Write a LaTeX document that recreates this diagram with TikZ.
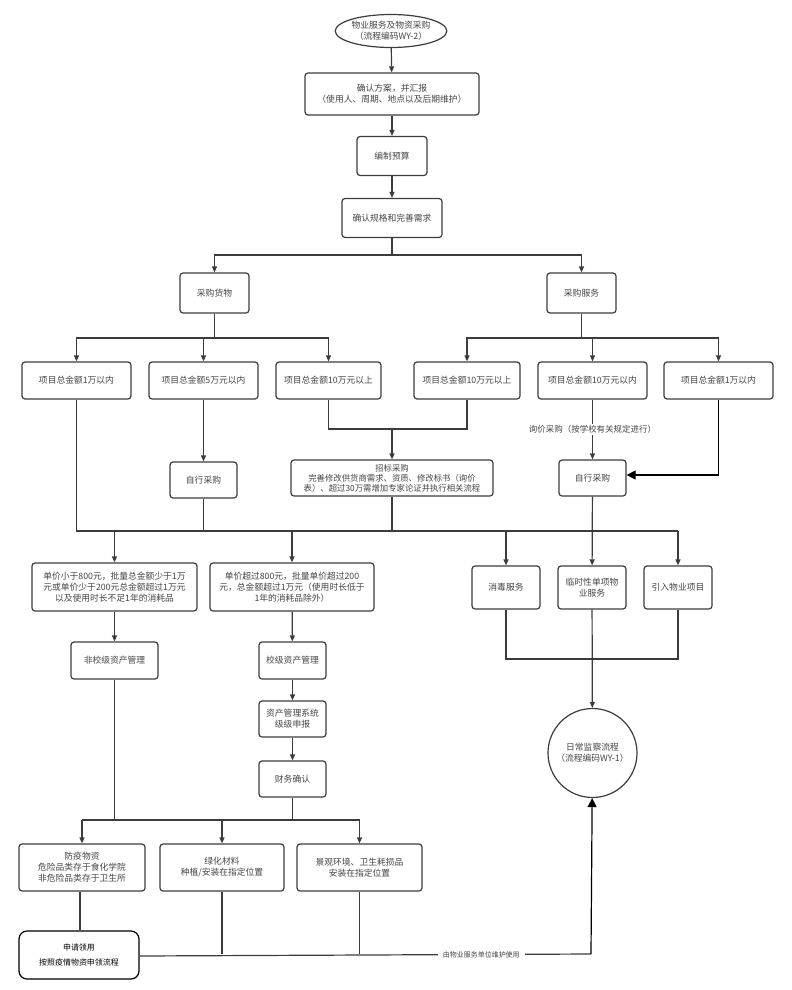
\documentclass[tikz,border=0pt]{standalone}
\usepackage{fontspec}
\newfontfamily\cjk{Noto Sans CJK SC}
\usetikzlibrary{arrows.meta,shapes.geometric}
\definecolor{lc}{HTML}{3C3C3C}
\definecolor{tc}{HTML}{454545}
\tikzset{
  base/.style={draw=lc, line width=1.2bp, fill=white, align=center, text=tc, inner sep=0pt,
    font=\cjk\fontsize{8.8}{11}\selectfont},
  box/.style={base, rounded corners=3bp},
  conn/.style={draw=lc, line width=1.2bp},
  arr/.style={conn, -{Triangle[length=6bp,width=5bp]}},
  bigarr/.style={draw=black, line width=1.2bp, -{Triangle[length=9bp,width=9bp]}},
  lbl/.style={fill=white, text=tc, font=\cjk\fontsize{8.5}{10}\selectfont, inner sep=1.5bp},
}
\begin{document}
\begin{tikzpicture}[x=1bp,y=-1bp]
\useasboundingbox (0,0) rectangle (792,990);
% nodes
\node[base, ellipse, minimum width=95bp, minimum height=33bp] (e) at (391,31) {物业服务及物资采购\\（流程编码WY-2）};
\node[box, minimum width=174bp, minimum height=42bp] (b1) at (392,94) {确认方案，并汇报\\（使用人、周期、地点以及后期维护）};
\node[box, minimum width=70bp, minimum height=39bp] (b2) at (392,156) {编制预算};
\node[box, minimum width=100bp, minimum height=39bp] (b3) at (392,218) {确认规格和完善需求};
\node[box, minimum width=69bp, minimum height=40bp] (goods) at (214.5,293) {采购货物};
\node[box, minimum width=69bp, minimum height=40bp] (serv) at (581.5,293) {采购服务};
\node[box, minimum width=109bp, minimum height=37bp] (g1) at (76.5,380.5) {项目总金额1万以内};
\node[box, minimum width=109bp, minimum height=37bp] (g2) at (203.5,380.5) {项目总金额5万元以内};
\node[box, minimum width=105bp, minimum height=37bp] (g3) at (328.5,380.5) {项目总金额10万元以上};
\node[box, minimum width=106bp, minimum height=37bp] (r1) at (467,380.5) {项目总金额10万元以上};
\node[box, minimum width=109bp, minimum height=37bp] (r2) at (592.5,380.5) {项目总金额10万元以内};
\node[box, minimum width=109bp, minimum height=37bp] (r3) at (718.5,380.5) {项目总金额1万以内};
\node[box, minimum width=67bp, minimum height=36bp] (zx1) at (203.5,480) {自行采购};
\node[box, minimum width=202bp, minimum height=36bp, font=\cjk\fontsize{8.4}{10}\selectfont] (zb) at (392,478) {招标采购\\完善修改供货商需求、资质、修改标书（询价\\表）、超过30万需增加专家论证并执行相关流程};
\node[box, minimum width=67bp, minimum height=36bp] (zx2) at (592.5,478) {自行采购};
\node[box, minimum width=165bp, minimum height=48bp] (c1) at (114.5,587) {单价小于800元，批量总金额少于1万\\元或单价少于200元总金额超过1万元\\以及使用时长不足1年的消耗品};
\node[box, minimum width=164bp, minimum height=48bp] (c2) at (292,587) {单价超过800元，批量单价超过200\\元，总金额超过1万元（使用时长低于\\1年的消耗品除外）};
\node[box, minimum width=68bp, minimum height=43bp] (t1) at (506,587.5) {消毒服务};
\node[box, minimum width=68bp, minimum height=43bp] (t2) at (592,587.5) {临时性单项物\\业服务};
\node[box, minimum width=68bp, minimum height=43bp] (t3) at (678,587.5) {引入物业项目};
\node[box, minimum width=87bp, minimum height=37bp] (f1) at (114.5,660.5) {非校级资产管理};
\node[box, minimum width=67bp, minimum height=37bp] (f2) at (292.5,660.5) {校级资产管理};
\node[box, minimum width=67bp, minimum height=36bp] (f3) at (292.5,719) {资产管理系统\\级级申报};
\node[box, minimum width=67bp, minimum height=36bp] (f4) at (292.5,779) {财务确认};
\node[box, minimum width=126bp, minimum height=47bp] (d1) at (82,867.5) {防疫物资\\危险品类存于食化学院\\非危险品类存于卫生所};
\node[box, minimum width=124bp, minimum height=47bp] (d2) at (222,867.5) {绿化材料\\种植/安装在指定位置};
\node[box, minimum width=125bp, minimum height=47bp] (d3) at (359.5,867.5) {景观环境、卫生耗损品\\安装在指定位置};
\node[base, draw=black, rounded corners=8bp, text=black, minimum width=120bp, minimum height=48bp,
  font=\cjk\fontsize{8}{15}\selectfont] (ap) at (79,955) {申请领用\\按照疫情物资申领流程};
\node[base, circle, minimum size=89bp] (circ) at (592.5,753) {日常监察流程\\（流程编码WY-1）};
% coordinates
\coordinate (s1) at (392,255);
\coordinate (s2) at (214.5,338);
\coordinate (s3) at (581.5,338);
\coordinate (m1) at (392,429);
\coordinate (bus) at (0,531);
\coordinate (s4) at (0,820);
\coordinate (m2) at (0,659);
\coordinate (bb) at (591,954);
% connectors
\draw[arr] (e) -- (b1);
\draw[arr] (b1) -- (b2);
\draw[arr] (b2) -- (b3);
\draw[conn] (b3) -- (s1);
\draw[arr] (s1) -| (goods);
\draw[arr] (s1) -| (serv);
\draw[conn] (goods) -- (s2);
\draw[arr] (s2) -| (g1);
\draw[arr] (s2) -| (g2);
\draw[arr] (s2) -| (g3);
\draw[conn] (serv) -- (s3);
\draw[arr] (s3) -| (r1);
\draw[arr] (s3) -| (r2);
\draw[arr] (s3) -| (r3);
\draw[arr] (g2) -- (zx1);
\draw[conn] (g3) |- (m1);
\draw[conn] (r1) |- (m1);
\draw[arr] (m1) -- (zb);
\draw[arr] (r2) -- node[lbl, pos=0.5] {询价采购（按学校有关规定进行）} (zx2);
\draw[bigarr] (r3.south) |- ([yshift=3bp]zx2.east);
% middle bus
\draw[conn] (g1.south) -- (g1.south |- bus) -- (t3.north |- bus);
\draw[conn] (zx1) -- (zx1 |- bus);
\draw[conn] (zb) -- (zb |- bus);
\draw[arr] (zx2) -- (t2);
\draw[arr] (c1 |- bus) -- (c1);
\draw[arr] (c2 |- bus) -- (c2);
\draw[arr] (t1 |- bus) -- (t1);
\draw[arr] (t3 |- bus) -- (t3);
% left chains
\draw[arr] (c1) -- (f1);
\draw[arr] (c2) -- (f2);
\draw[arr] (f2) -- (f3);
\draw[arr] (f3) -- (f4);
\draw[conn] (f1) -- (f1 |- s4);
\draw[conn] (f4) -- (f4 |- s4);
\draw[conn] (d1 |- s4) -- (d3 |- s4);
\draw[arr] (d1 |- s4) -- (d1);
\draw[arr] (d2 |- s4) -- (d2);
\draw[arr] (d3 |- s4) -- (d3);
% right services to circle
\draw[conn] (t1.south) -- (t1.south |- m2) -- (t3.south |- m2) -- (t3.south);
\draw[arr] (t2) -- (circ);
% bottom
\draw[conn] ([xshift=-2bp]d1.south) -- ([xshift=-2bp]d1.south |- ap.north);
\draw[conn] ([yshift=-1bp]ap.east) -- node[lbl, pos=0.757, font=\cjk\fontsize{7}{8}\selectfont, inner xsep=5bp] {由物业服务单位维护使用} (bb);
\draw[conn] (d2) -- (d2 |- bb);
\draw[conn] (d3) -- (d3 |- bb);
\draw[bigarr] (bb) -- (circ);
\end{tikzpicture}
\end{document}
